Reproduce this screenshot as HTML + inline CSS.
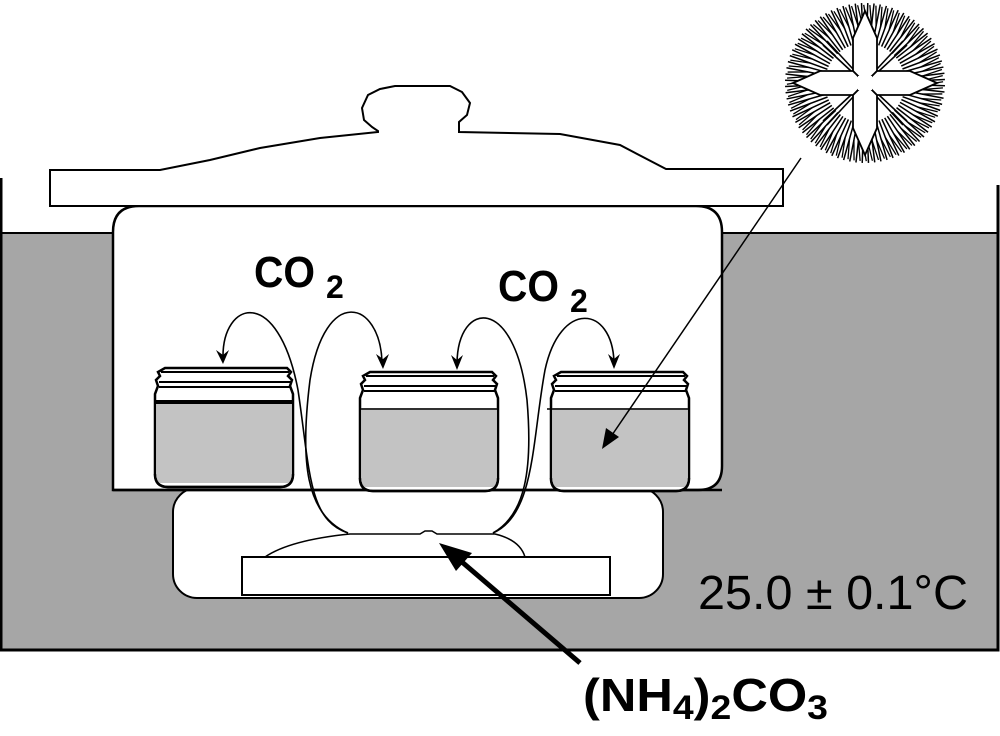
<!DOCTYPE html>
<html><head><meta charset="utf-8"><style>
html,body{margin:0;padding:0;background:#fff;}
svg{display:block;}
</style></head><body>
<svg width="1000" height="736" viewBox="0 0 1000 736" xmlns="http://www.w3.org/2000/svg">
<defs>
<g id="jar">
  <path d="M12,2 H134 L138,6 L135,10 L139,14 L137,20 L140,28 V108 Q140,121 127,121 H15 Q2,121 2,108 V28 L5,20 L3,14 L7,10 L5,6 Z" fill="#fff" stroke="#000" stroke-width="2.5"/>
  <rect x="4" y="38" width="134" height="79" fill="#c3c3c3"/>
  <path d="M2,108 Q2,121 15,121 H127 Q140,121 140,108" fill="none" stroke="#000" stroke-width="2.5"/>
  <line x1="8" y1="6" x2="136" y2="6" stroke="#000" stroke-width="2"/>
  <line x1="6" y1="16" x2="138" y2="16" stroke="#000" stroke-width="2"/>
  <line x1="6" y1="21" x2="138" y2="21" stroke="#000" stroke-width="2"/>
</g>
<g id="br">
  <line x1="0" y1="-40" x2="0" y2="-80" stroke="#000" stroke-width="1.5"/>
  <line x1="0" y1="-58" x2="-4" y2="-78" stroke="#000" stroke-width="1.3"/>
</g>
<g id="br4">
  <use href="#br"/><use href="#br" transform="rotate(4.5)"/><use href="#br" transform="rotate(9)"/><use href="#br" transform="rotate(13.5)"/><use href="#br" transform="rotate(18)"/><use href="#br" transform="rotate(22.5)"/><use href="#br" transform="rotate(27)"/><use href="#br" transform="rotate(31.5)"/><use href="#br" transform="rotate(36)"/><use href="#br" transform="rotate(40.5)"/>
</g>
</defs>
<rect width="1000" height="736" fill="#fff"/>
<!-- bath -->
<rect x="1" y="233" width="997" height="417" fill="#a6a6a6"/>
<path d="M1,178 V650 H998 V185" fill="none" stroke="#000" stroke-width="3"/>
<line x1="1" y1="233" x2="115" y2="233" stroke="#000" stroke-width="2"/>
<line x1="720" y1="233" x2="998" y2="233" stroke="#000" stroke-width="2"/>
<!-- lower part -->
<rect x="173" y="488" width="490" height="110" rx="24" fill="#fff" stroke="#000" stroke-width="2"/>
<!-- upper pot -->
<path d="M113,490 V232 Q113,206 139,206 H696 Q722,206 722,232 V466 Q722,490 698,490 Z" fill="#fff" stroke="#000" stroke-width="2.5"/>
<line x1="113" y1="490" x2="722" y2="490" stroke="#000" stroke-width="2.5"/>
<!-- lid -->
<path d="M50,206 V170 H160 L210,160 L260,148 L320,138 L378,132 V131 L372,127 L364,120 L362,108 L368,95 L380,89 L395,86 L450,86 L462,92 L470,103 L467,115 L459,122 L459,132 L560,134 L620,145 L666,169 H783 V206 Z" fill="#fff" stroke="#000" stroke-width="2"/>
<!-- plate & dome -->
<path d="M265,557 Q290,540 350,534 H420 L425,531 H432 L437,534 H495 Q520,540 525,557" fill="#fff" stroke="#000" stroke-width="1.5"/>
<rect x="242" y="557" width="368" height="38" fill="#fff" stroke="#000" stroke-width="2"/>
<!-- jars -->
<use href="#jar" x="153" y="366"/>
<use href="#jar" x="358" y="370"/>
<use href="#jar" x="549" y="370"/>
<line x1="155" y1="402" x2="292" y2="402" stroke="#000" stroke-width="4"/>
<line x1="360" y1="409" x2="497" y2="409" stroke="#000" stroke-width="1.5"/>
<line x1="547" y1="409" x2="688" y2="409" stroke="#000" stroke-width="1.5"/>
<!-- loops -->
<g fill="none" stroke="#000" stroke-width="1.6">
<path d="M223,358 C222,300 278,285 298,390 C310,470 308,520 348,533"/>
<path d="M382,362 C380,300 325,285 310,380 C300,460 305,515 348,533"/>
<path d="M457,363 C458,300 515,295 527,400 C533,470 525,515 493,533"/>
<path d="M614,362 C612,305 560,300 545,370 C532,440 535,515 493,533"/>
</g>
<g fill="#000">
<path d="M216,350 L223,364 L229,350 L223,355 Z"/>
<path d="M376,354 L383,369 L389,354 L383,359 Z"/>
<path d="M451,355 L457,370 L463,355 L457,360 Z"/>
<path d="M608,354 L614,369 L620,354 L614,359 Z"/>
</g>
<!-- dendrite arrow -->
<line x1="801" y1="158" x2="610" y2="438" stroke="#000" stroke-width="1.5"/>
<path d="M602,449 L606,428 L619,437 Z" fill="#000"/>
<!-- NH4 arrow -->
<line x1="580" y1="663" x2="462" y2="562" stroke="#000" stroke-width="5"/>
<path d="M439,543 L472,553 L456,571 Z" fill="#000"/>
<!-- dendrite -->
<g transform="translate(865,83)">
  <use href="#br4" transform="rotate(2)"/><use href="#br4" transform="rotate(47)"/><use href="#br4" transform="rotate(92)"/><use href="#br4" transform="rotate(137)"/><use href="#br4" transform="rotate(182)"/><use href="#br4" transform="rotate(227)"/><use href="#br4" transform="rotate(272)"/><use href="#br4" transform="rotate(317)"/>
  <g fill="none" stroke="#000" stroke-width="1.6">
    <line x1="-12" y1="-14" x2="-38" y2="-42"/><line x1="12" y1="-14" x2="38" y2="-42"/>
    <line x1="-12" y1="14" x2="-38" y2="42"/><line x1="12" y1="14" x2="38" y2="42"/>
    <line x1="-14" y1="-12" x2="-42" y2="-38"/><line x1="14" y1="-12" x2="42" y2="-38"/>
    <line x1="-14" y1="12" x2="-42" y2="38"/><line x1="14" y1="12" x2="42" y2="38"/>
  </g>
  <g fill="#fff" stroke="#000" stroke-width="1.8">
    <path d="M-6,-6 L-12,-12 V-45 L0,-72 L12,-45 V-12 L6,-6 Z"/>
    <path d="M-6,6 L-12,12 V45 L0,72 L12,45 V12 L6,6 Z"/>
    <path d="M-6,-6 L-12,-12 H-45 L-72,0 L-45,12 H-12 L-6,6 Z"/>
    <path d="M6,-6 L12,-12 H45 L72,0 L45,12 H12 L6,6 Z"/>
    <rect x="-7" y="-7" width="14" height="14" stroke="none"/>
  </g>
</g>
<!-- labels -->
<g font-family="'Liberation Sans', sans-serif" font-weight="bold" fill="#000">
<text x="254" y="287" font-size="44" textLength="61" lengthAdjust="spacingAndGlyphs">CO</text>
<text x="326" y="298" font-size="32">2</text>
<text x="498" y="301" font-size="44" textLength="61" lengthAdjust="spacingAndGlyphs">CO</text>
<text x="570" y="312" font-size="32">2</text>
<text x="583" y="711" font-size="46" textLength="245" lengthAdjust="spacingAndGlyphs">(NH<tspan font-size="34" dy="8">4</tspan><tspan dy="-8">)</tspan><tspan font-size="34" dy="8">2</tspan><tspan dy="-8">CO</tspan><tspan font-size="34" dy="8">3</tspan></text>
</g>
<text x="698" y="609" font-family="'Liberation Sans', sans-serif" font-size="48" textLength="270" lengthAdjust="spacingAndGlyphs" fill="#000">25.0 ± 0.1°C</text>
</svg>
</body></html>
